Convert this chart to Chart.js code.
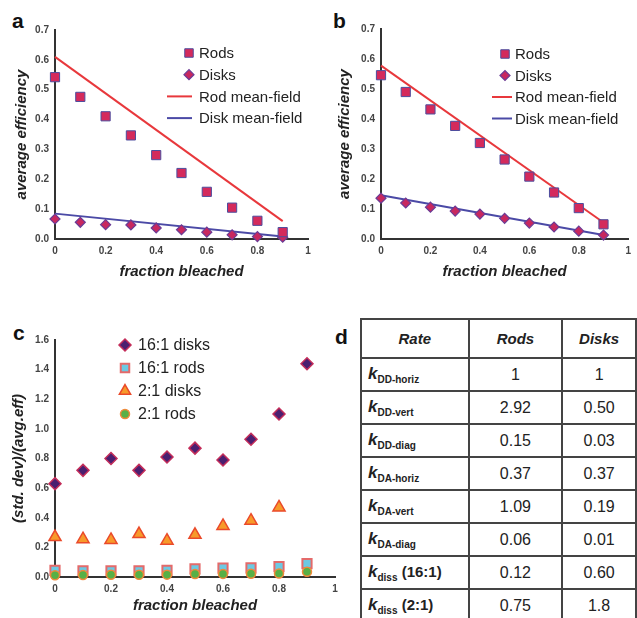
<!DOCTYPE html>
<html>
<head>
<meta charset="utf-8">
<script src="https://cdn.jsdelivr.net/npm/chart.js@4.4.1/dist/chart.umd.min.js"></script>
<style>
html,body{margin:0;padding:0;background:#fff;width:637px;height:618px;overflow:hidden;font-family:"Liberation Sans",Arial,sans-serif;color:#222;}
.panel{position:absolute;}
.letter{position:absolute;font-weight:bold;font-size:21px;color:#111;line-height:1;}
#tbl{position:absolute;left:360px;top:318px;border-collapse:collapse;table-layout:fixed;}
#tbl td,#tbl th{border:2px solid #444;padding:0;}
#tbl th{height:37px;font-weight:bold;font-style:italic;font-size:15px;text-align:center;color:#222;}
#tbl td{height:31px;font-size:16px;text-align:center;color:#222;}
#tbl td.rate{text-align:left;padding-left:6px;font-weight:bold;font-size:15px;}
#tbl td.rate i{font-size:17px;}
#tbl td.rate sub{font-size:10px;vertical-align:-4px;}
</style>
</head>
<body>
<div class="letter" style="left:12px;top:10px;">a</div>
<div class="letter" style="left:333px;top:10px;">b</div>
<div class="letter" style="left:13px;top:322px;">c</div>
<div class="letter" style="left:335px;top:326px;">d</div>

<canvas id="chA" class="panel" width="318" height="290" style="left:0;top:0;"></canvas>
<canvas id="chB" class="panel" width="317" height="290" style="left:320px;top:0;"></canvas>
<canvas id="chC" class="panel" width="345" height="318" style="left:0;top:300px;"></canvas>

<table id="tbl">
<colgroup><col style="width:108px"><col style="width:94px"><col style="width:74px"></colgroup>
<thead><tr><th>Rate</th><th>Rods</th><th>Disks</th></tr></thead>
<tbody id="tbody"></tbody>
</table>

<script>
// ---------- data ----------
const fractionBleached = [0, 0.1, 0.2, 0.3, 0.4, 0.5, 0.6, 0.7, 0.8, 0.9];
const meanFieldX = [0, 0.9];

// panel a
const rodsA   = [0.542, 0.476, 0.411, 0.347, 0.281, 0.221, 0.158, 0.105, 0.061, 0.023];
const disksA  = [0.067, 0.056, 0.048, 0.047, 0.037, 0.031, 0.023, 0.014, 0.008, 0.006];
const rodMFA  = [0.61, 0.06];
const diskMFA = [0.085, 0.008];

// panel b
const rodsB   = [0.546, 0.490, 0.432, 0.377, 0.320, 0.265, 0.208, 0.155, 0.103, 0.049];
const disksB  = [0.136, 0.120, 0.106, 0.093, 0.083, 0.069, 0.053, 0.040, 0.026, 0.013];
const rodMFB  = [0.578, 0.055];
const diskMFB = [0.146, 0.013];

// panel c
const disks16 = [0.63, 0.72, 0.80, 0.72, 0.81, 0.87, 0.79, 0.93, 1.10, 1.44];
const rods16  = [0.045, 0.042, 0.042, 0.041, 0.045, 0.055, 0.060, 0.062, 0.070, 0.090];
const disks2  = [0.27, 0.255, 0.25, 0.29, 0.245, 0.285, 0.345, 0.38, 0.47];
const rods2   = [0.012, 0.014, 0.015, 0.015, 0.016, 0.020, 0.021, 0.022, 0.023, 0.035];

// tick labels / titles
const xTickLabels = ['0', '0.2', '0.4', '0.6', '0.8', '1'];
const xTitle = 'fraction bleached';
const yTitleAB = 'average efficiency';
const yTitleC = '(std. dev)/(avg.eff)';

// panel d table
const rateSubs   = ['DD-horiz','DD-vert','DD-diag','DA-horiz','DA-vert','DA-diag','diss','diss'];
const rateSuffix = ['','','','','','',' (16:1)',' (2:1)'];
const rodsRates  = ['1','2.92','0.15','0.37','1.09','0.06','0.12','0.75'];
const disksRates = ['1','0.50','0.03','0.37','0.19','0.01','0.60','1.8'];

// ---------- helpers ----------
const pts = (xs, ys) => ys.map((y, i) => ({x: xs[i], y}));

const inlineLegend = {
  id: 'inlineLegend',
  afterDatasetsDraw(chart, args, o) {
    const ctx = chart.ctx;
    ctx.save();
    ctx.font = o.font;
    ctx.textBaseline = 'middle';
    ctx.textAlign = 'left';
    chart.data.datasets.forEach((ds, i) => {
      const y = o.y + i * o.spacing;
      if (ds.showLine) {
        ctx.strokeStyle = ds.borderColor;
        ctx.lineWidth = ds.borderWidth;
        ctx.beginPath(); ctx.moveTo(o.lineX0, y); ctx.lineTo(o.lineX1, y); ctx.stroke();
      } else {
        ctx.fillStyle = ds.backgroundColor;
        ctx.strokeStyle = ds.borderColor;
        ctx.lineWidth = ds.borderWidth;
        Chart.helpers.drawPoint(ctx, {pointStyle: ds.pointStyle, radius: ds.legendRadius || ds.pointRadius, borderWidth: ds.borderWidth, rotation: 0}, o.markerX, y);
      }
      ctx.fillStyle = '#222';
      ctx.fillText(ds.label, o.textX, y + 1);
    });
    ctx.restore();
  }
};

function axes(c) {
  return {
    x: {
      type: 'linear', min: 0, max: 1,
      ticks: {stepSize: 0.2, callback: (v, i) => xTickLabels[i], font: {size: 10, weight: 'bold', family: 'Liberation Sans'}, color: '#444', padding: c.xTickPad, maxRotation: 0, autoSkip: false},
      grid: {display: false, drawTicks: false},
      border: {display: true, color: '#333', width: 2},
      title: {display: true, text: xTitle, color: '#222', font: {size: 15, weight: 'bold', style: 'italic', family: 'Liberation Sans'}, padding: {top: 0, bottom: c.xTitlePad}},
      afterFit(s) { s.height = c.xH; }
    },
    y: {
      type: 'linear', min: 0, max: c.yMax,
      ticks: {stepSize: c.yStep, callback: v => Number(v).toFixed(1), font: {size: 10, weight: 'bold', family: 'Liberation Sans'}, color: '#444', padding: 6},
      grid: {display: false, drawTicks: false},
      border: {display: true, color: '#333', width: 2},
      title: {display: true, text: c.yTitle, color: '#222', font: {size: 15, weight: 'bold', style: 'italic', family: 'Liberation Sans'}, padding: {top: c.yTitlePad, bottom: 0}},
      afterFit(s) { s.width = c.yW; }
    }
  };
}

function abDatasets(rods, disks, rodMF, diskMF) {
  return [
    {label: 'Rods', data: pts(fractionBleached, rods), pointStyle: 'rect', pointRadius: 6.5, legendRadius: 6, backgroundColor: '#d42a5c', borderColor: '#4d4d9e', borderWidth: 1, showLine: false, clip: false},
    {label: 'Disks', data: pts(fractionBleached, disks), pointStyle: 'rectRot', pointRadius: 5, legendRadius: 5, backgroundColor: '#c8285f', borderColor: '#6a3c96', borderWidth: 1.2, showLine: false, clip: false},
    {label: 'Rod mean-field', data: pts(meanFieldX, rodMF), showLine: true, pointRadius: 0, borderColor: '#e8383c', backgroundColor: '#e8383c', borderWidth: 2, clip: false},
    {label: 'Disk mean-field', data: pts(meanFieldX, diskMF), showLine: true, pointRadius: 0, borderColor: '#4b4aa6', backgroundColor: '#4b4aa6', borderWidth: 2, clip: false}
  ];
}

const common = {
  responsive: false, animation: false, events: [],
  plugins: {legend: {display: false}, tooltip: {enabled: false}}
};

new Chart(document.getElementById('chA'), {
  type: 'scatter',
  data: {datasets: abDatasets(rodsA, disksA, rodMFA, diskMFA)},
  plugins: [inlineLegend],
  options: Object.assign({}, common, {
    layout: {padding: {top: 30, right: 10, left: 0, bottom: 0}},
    scales: axes({xH: 51, xTickPad: 6, xTitlePad: 9, yMax: 0.7, yStep: 0.1, yTitle: yTitleAB, yTitlePad: 13, yW: 55}),
    plugins: Object.assign({}, common.plugins, {inlineLegend: {font: '15px "Liberation Sans"', x: 0, y: 53, spacing: 21.7, markerX: 189, textX: 199, lineX0: 167, lineX1: 192}})
  })
});

new Chart(document.getElementById('chB'), {
  type: 'scatter',
  data: {datasets: abDatasets(rodsB, disksB, rodMFB, diskMFB)},
  plugins: [inlineLegend],
  options: Object.assign({}, common, {
    layout: {padding: {top: 29, right: 4, left: 0, bottom: 0}},
    scales: axes({xH: 51, xTickPad: 6, xTitlePad: 9, yMax: 0.7, yStep: 0.1, yTitle: yTitleAB, yTitlePad: 16, yW: 61}),
    plugins: Object.assign({}, common.plugins, {inlineLegend: {font: '15px "Liberation Sans"', x: 0, y: 54, spacing: 21.5, markerX: 185, textX: 195, lineX0: 172, lineX1: 192}})
  })
});

new Chart(document.getElementById('chC'), {
  type: 'scatter',
  data: {datasets: [
    {label: '16:1 disks', data: pts(fractionBleached, disks16), pointStyle: 'rectRot', pointRadius: 6, legendRadius: 6, backgroundColor: '#4a1f70', borderColor: '#c42d5a', borderWidth: 1.5, order: 3, clip: false},
    {label: '16:1 rods', data: pts(fractionBleached, rods16), pointStyle: 'rect', pointRadius: 6.5, legendRadius: 6, backgroundColor: '#6cc9e3', borderColor: '#e46a6a', borderWidth: 2, order: 1, clip: false},
    {label: '2:1 disks', data: pts(fractionBleached, disks2), pointStyle: 'triangle', pointRadius: 7, legendRadius: 6.5, backgroundColor: '#f79a2a', borderColor: '#ea4a2a', borderWidth: 1.5, order: 2, clip: false},
    {label: '2:1 rods', data: pts(fractionBleached, rods2), pointStyle: 'circle', pointRadius: 4.5, legendRadius: 4.5, backgroundColor: '#58b046', borderColor: '#f08a3a', borderWidth: 1.5, order: 0, clip: false}
  ]},
  plugins: [inlineLegend],
  options: Object.assign({}, common, {
    layout: {padding: {top: 40, right: 10, left: 0, bottom: 0}},
    scales: axes({xH: 41, xTickPad: 6, xTitlePad: 3, yMax: 1.6, yStep: 0.2, yTitle: yTitleC, yTitlePad: 10, yW: 55}),
    plugins: Object.assign({}, common.plugins, {inlineLegend: {font: '16px "Liberation Sans"', x: 0, y: 45, spacing: 23, markerX: 125, textX: 138, lineX0: 0, lineX1: 0}})
  })
});

// table
const tbody = document.getElementById('tbody');
rateSubs.forEach((s, i) => {
  const tr = document.createElement('tr');
  tr.innerHTML = '<td class="rate"><i>k</i><sub>' + s + '</sub>' + rateSuffix[i] + '</td><td>' + rodsRates[i] + '</td><td>' + disksRates[i] + '</td>';
  tbody.appendChild(tr);
});
</script>
</body>
</html>
